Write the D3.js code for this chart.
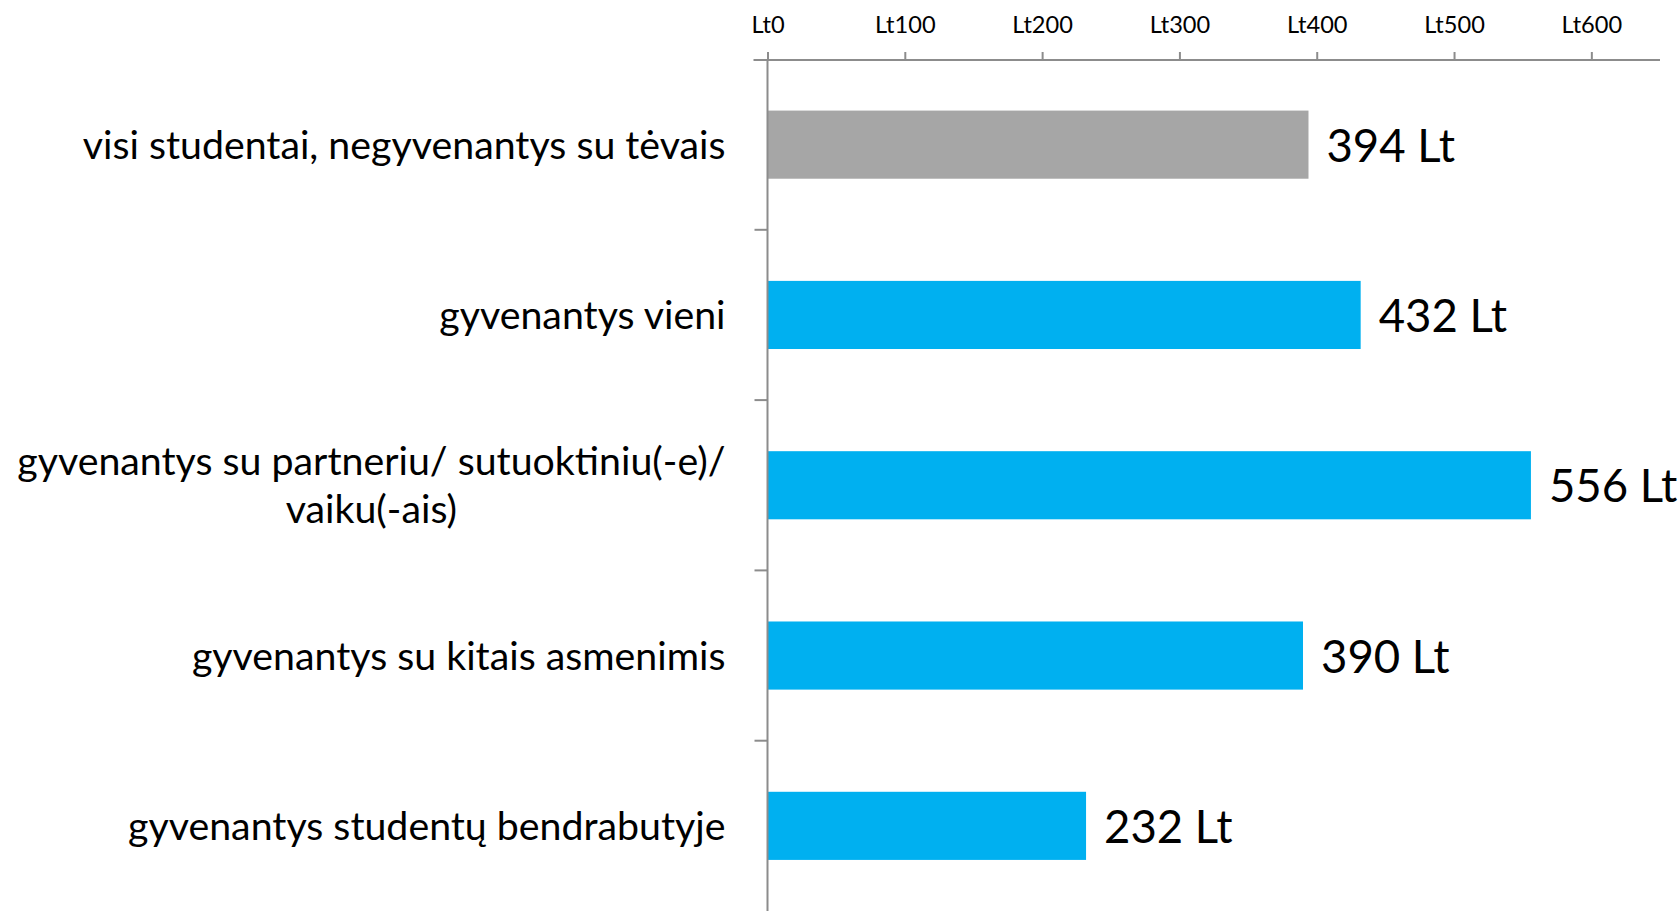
<!DOCTYPE html>
<html><head><meta charset="utf-8">
<script src="https://cdn.jsdelivr.net/npm/d3@7"></script>
<style>body{margin:0;background:#fff;} svg{display:block;} text{font-family:Lato, sans-serif;fill:#000;}</style>
</head><body><svg id="chart" width="1680" height="911"></svg>
<script>
const categories = ["visi studentai, negyvenantys su tėvais", "gyvenantys vieni", "gyvenantys su partneriu/ sutuoktiniu(-e)/ vaiku(-ais)", "gyvenantys su kitais asmenimis", "gyvenantys studentų bendrabutyje"];
const categoryLines = [["visi studentai, negyvenantys su tėvais"], ["gyvenantys vieni"], ["gyvenantys su partneriu/ sutuoktiniu(-e)/", "vaiku(-ais)"], ["gyvenantys su kitais asmenimis"], ["gyvenantys studentų bendrabutyje"]];
const values = [394, 432, 556, 390, 232];
const valueLabels = ["394 Lt", "432 Lt", "556 Lt", "390 Lt", "232 Lt"];
const barColors = ["#A6A6A6", "#00B0F0", "#00B0F0", "#00B0F0", "#00B0F0"];
const tickValues = [0, 100, 200, 300, 400, 500, 600];
const tickLabels = ["Lt0", "Lt100", "Lt200", "Lt300", "Lt400", "Lt500", "Lt600"];
const axisMax = 650;

const svg = d3.select("#chart");
const x = d3.scaleLinear().domain([0, axisMax]).range([767.5, 1660]);
const y = d3.scaleBand().domain(categories).range([59.5, 911]).paddingInner(0.6).paddingOuter(0.3);
const axisColor = "#8c8c8c";

// bars
svg.append("g").selectAll("rect").data(categories).join("rect")
  .attr("x", x(0)).attr("y", d => y(d))
  .attr("width", (d, i) => x(values[i]) - x(0))
  .attr("height", y.bandwidth())
  .attr("fill", (d, i) => barColors[i]);

// top axis
const gx = svg.append("g").attr("transform", "translate(0,60)")
  .call(d3.axisTop(x).tickValues(tickValues).tickFormat((d, i) => tickLabels[i]).tickSize(8).tickSizeOuter(0).tickPadding(19));
gx.select(".domain").attr("d", `M${x(0) - 14},0H${x.range()[1]}`).attr("stroke", axisColor).attr("stroke-width", 2);
gx.selectAll(".tick line").attr("stroke", axisColor).attr("stroke-width", 2);
gx.selectAll(".tick text").attr("font-family", "Lato, sans-serif").attr("font-size", 23.6).attr("fill", "#000");

// left axis
const gy = svg.append("g");
gy.append("line").attr("x1", x(0)).attr("x2", x(0)).attr("y1", y.range()[0]).attr("y2", y.range()[1])
  .attr("stroke", axisColor).attr("stroke-width", 2);
const boundaries = categories.slice(1).map(c => y(c) - y.step() * y.paddingInner() / 2);
gy.selectAll(".ctick").data(boundaries).join("line").attr("class", "ctick")
  .attr("x1", x(0) - 13).attr("x2", x(0)).attr("y1", d => d).attr("y2", d => d)
  .attr("stroke", axisColor).attr("stroke-width", 2);

// category labels
const catSize = 39.3;
const labelRight = x(0) - 42;
const lineH = 48;
const catG = svg.append("g");
categories.forEach((c, i) => {
  const lines = categoryLines[i];
  const cy = y(c) + y.bandwidth() / 2;
  const t = catG.append("text").attr("font-size", catSize);
  if (lines.length === 1) {
    t.attr("x", labelRight).attr("y", cy + 14).attr("text-anchor", "end").text(lines[0]);
  } else {
    const tmp = catG.append("text").attr("font-size", catSize).text(lines[0]);
    const w = tmp.node().getComputedTextLength();
    tmp.remove();
    const cx = labelRight - w / 2;
    lines.forEach((ln, j) => {
      t.append("tspan").attr("x", cx).attr("y", cy + 14 + (j - (lines.length - 1) / 2) * lineH)
        .attr("text-anchor", "middle").text(ln);
    });
  }
});

// value labels
svg.append("g").selectAll("text").data(categories).join("text")
  .attr("x", (d, i) => x(values[i]) + 18)
  .attr("y", d => y(d) + y.bandwidth() / 2 + 17)
  .attr("font-size", 45.5)
  .text((d, i) => valueLabels[i]);
</script></body></html>
